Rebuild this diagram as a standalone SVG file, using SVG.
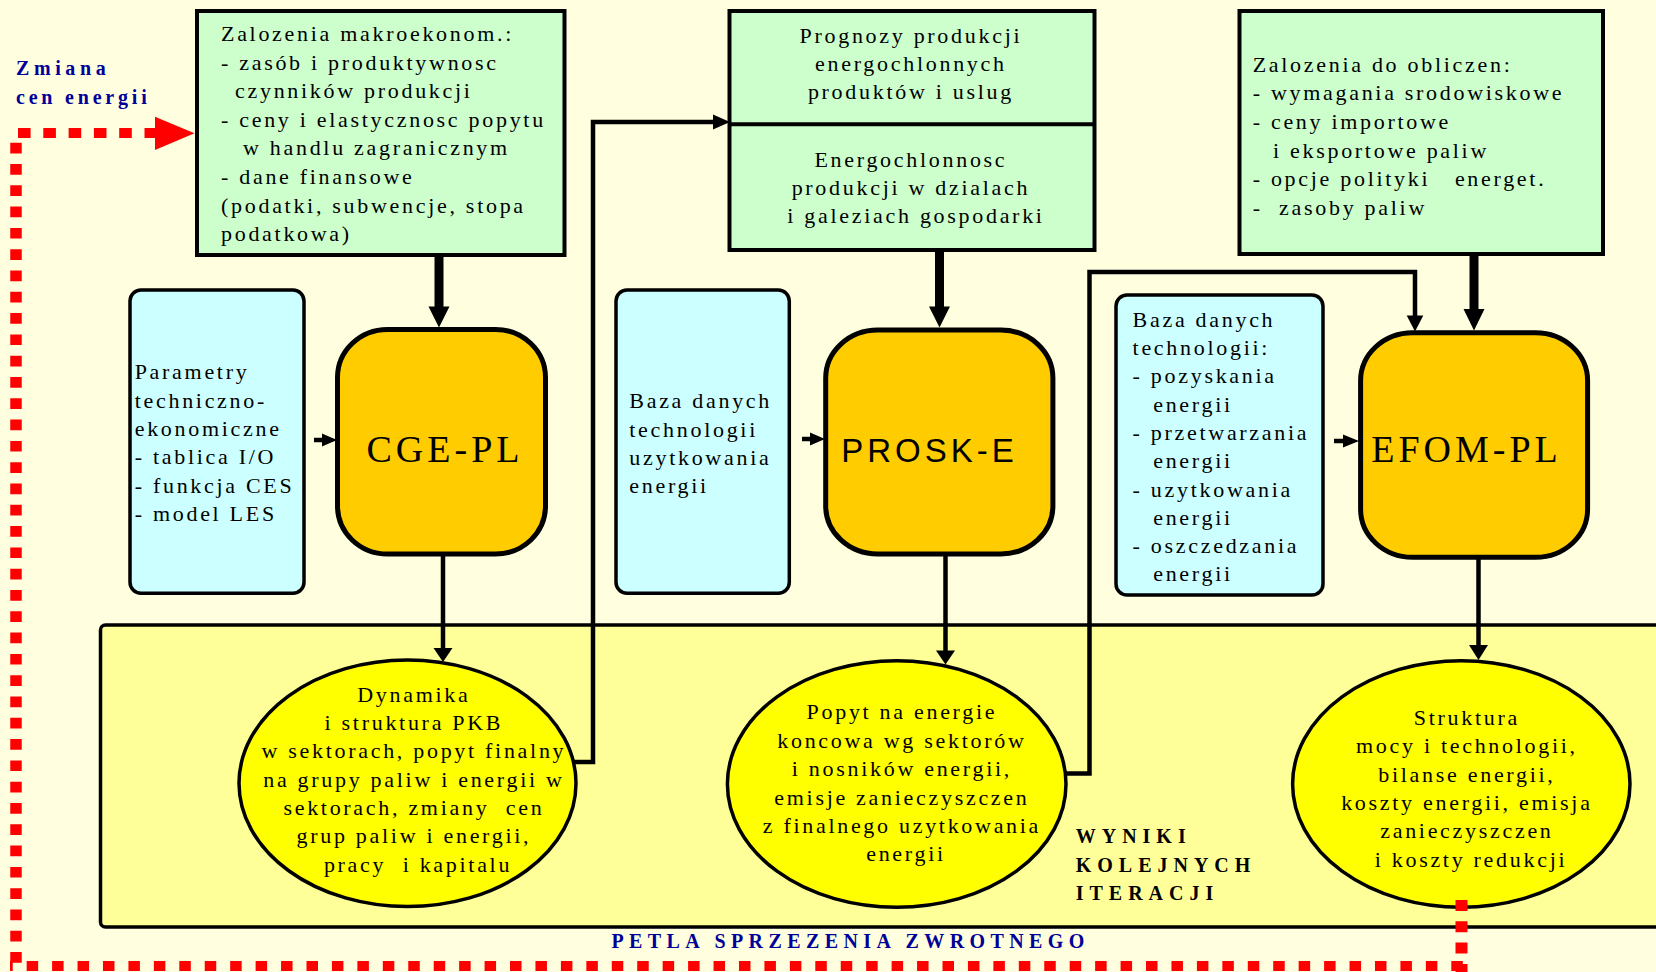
<svg xmlns="http://www.w3.org/2000/svg" width="1656" height="972" viewBox="0 0 1656 972">
<style>
.t{font-family:"Liberation Serif","Times New Roman",serif;font-size:22px;letter-spacing:2.7px;fill:#000}
.c{text-anchor:middle}
.big{font-family:"Liberation Serif","Times New Roman",serif;font-size:38px;letter-spacing:4px;text-anchor:middle;fill:#000}
.sans{font-family:"Liberation Sans",Arial,sans-serif;font-size:33px;letter-spacing:4px;text-anchor:middle;fill:#000}
.green{fill:#CCFFCC;stroke:#000;stroke-width:4}
.blue{fill:#CCFFFF;stroke:#000;stroke-width:3.5}
.orange{fill:#FFCC00;stroke:#000;stroke-width:5}
.ell{fill:#FFFF00;stroke:#000;stroke-width:3.5}
.wire{fill:none;stroke:#000;stroke-width:4.5}
.thick{fill:none;stroke:#000;stroke-width:9}
.head{fill:#000}
.red{fill:none;stroke:#FF0000}
.lbl{font-family:"Liberation Serif","Times New Roman",serif;font-weight:bold;font-size:20px;fill:#000099}
.res{font-family:"Liberation Serif","Times New Roman",serif;font-weight:bold;font-size:20px;letter-spacing:6px;fill:#000}
</style>
<rect x="0" y="0" width="1656" height="972" fill="#FFFFE0"/>

<g id="panel">
  <rect x="100.5" y="625" width="1600" height="302" rx="5" fill="#FFFF99" stroke="#000" stroke-width="3.5"/>
</g>

<g id="box-makro">
  <rect class="green" x="197" y="11" width="367.5" height="244"/>
  <text class="t" xml:space="preserve">
    <tspan x="221" y="41">Zalozenia makroekonom.:</tspan>
    <tspan x="221" y="69.6">- zasób i produktywnosc</tspan>
    <tspan x="235" y="98.2">czynników produkcji</tspan>
    <tspan x="221" y="126.8">- ceny i elastycznosc popytu</tspan>
    <tspan x="243" y="155.4">w handlu zagranicznym</tspan>
    <tspan x="221" y="184">- dane finansowe</tspan>
    <tspan x="221" y="212.6">(podatki, subwencje, stopa</tspan>
    <tspan x="221" y="241.2">podatkowa)</tspan>
  </text>
</g>

<g id="box-prognozy">
  <rect class="green" x="729.5" y="11" width="365" height="239"/>
  <line x1="729.5" y1="124.3" x2="1094.5" y2="124.3" stroke="#000" stroke-width="4"/>
  <text class="t c">
    <tspan x="915" y="42.7">Prognozy produkcji</tspan>
    <tspan x="915" y="71">energochlonnych</tspan>
    <tspan x="915" y="99.3">produktów i uslug</tspan>
    <tspan x="915" y="166.7">Energochlonnosc</tspan>
    <tspan x="915" y="195">produkcji w dzialach</tspan>
    <tspan x="916" y="223.3">i galeziach gospodarki</tspan>
  </text>
</g>

<g id="box-obliczenia">
  <rect class="green" x="1239.5" y="11" width="363.5" height="243"/>
  <text class="t" xml:space="preserve">
    <tspan x="1252.7" y="71.7">Zalozenia do obliczen:</tspan>
    <tspan x="1252.7" y="100.3">- wymagania srodowiskowe</tspan>
    <tspan x="1252.7" y="128.9">- ceny importowe</tspan>
    <tspan x="1273" y="157.5">i eksportowe paliw</tspan>
    <tspan x="1252.7" y="186.1">- opcje polityki   energet.</tspan>
    <tspan x="1252.7" y="214.7">-  zasoby paliw</tspan>
  </text>
</g>

<g id="blue-parametry">
  <rect class="blue" x="130" y="290" width="174" height="303.3" rx="11"/>
  <text class="t">
    <tspan x="134.7" y="379.3">Parametry</tspan>
    <tspan x="134.7" y="407.6">techniczno-</tspan>
    <tspan x="134.7" y="435.9">ekonomiczne</tspan>
    <tspan x="134.7" y="464.2">- tablica I/O</tspan>
    <tspan x="134.7" y="492.5">- funkcja CES</tspan>
    <tspan x="134.7" y="520.8">- model LES</tspan>
  </text>
</g>

<g id="blue-baza1">
  <rect class="blue" x="616" y="290" width="173.3" height="303.3" rx="11"/>
  <text class="t">
    <tspan x="629.3" y="408.3">Baza danych</tspan>
    <tspan x="629.3" y="436.5">technologii</tspan>
    <tspan x="629.3" y="464.7">uzytkowania</tspan>
    <tspan x="629.3" y="492.9">energii</tspan>
  </text>
</g>

<g id="blue-baza2">
  <rect class="blue" x="1116" y="295" width="207" height="300" rx="11"/>
  <text class="t">
    <tspan x="1132.6" y="326.7">Baza danych</tspan>
    <tspan x="1132.6" y="355">technologii:</tspan>
    <tspan x="1132.6" y="383.3">- pozyskania</tspan>
    <tspan x="1153.2" y="411.6">energii</tspan>
    <tspan x="1132.6" y="439.9">- przetwarzania</tspan>
    <tspan x="1153.2" y="468.2">energii</tspan>
    <tspan x="1132.6" y="496.5">- uzytkowania</tspan>
    <tspan x="1153.2" y="524.8">energii</tspan>
    <tspan x="1132.6" y="553.1">- oszczedzania</tspan>
    <tspan x="1153.2" y="581.4">energii</tspan>
  </text>
</g>

<g id="model-cge">
  <rect class="orange" x="337.5" y="329.5" width="208" height="224.5" rx="50" ry="48"/>
  <text class="big" x="445" y="461.7">CGE-PL</text>
</g>

<g id="model-prosk">
  <rect class="orange" x="825.7" y="330" width="227.2" height="224" rx="52" ry="48"/>
  <text class="sans" x="929.5" y="461.7">PROSK-E</text>
</g>

<g id="model-efom">
  <rect class="orange" x="1360.6" y="332.7" width="227" height="224.6" rx="52" ry="48"/>
  <text class="big" x="1466.5" y="461.7">EFOM-PL</text>
</g>

<g id="connectors">
  <line class="thick" x1="439" y1="255" x2="439" y2="308"/>
  <polygon class="head" points="428.5,306.5 449.5,306.5 439,327.5"/>
  <line class="thick" x1="939.5" y1="250" x2="939.5" y2="308"/>
  <polygon class="head" points="929,306.5 950,306.5 939.5,327.5"/>
  <line class="thick" x1="1474" y1="254" x2="1474" y2="310"/>
  <polygon class="head" points="1463.5,309 1484.5,309 1474,330.5"/>
  <line class="wire" x1="314" y1="440" x2="325" y2="440"/>
  <polygon class="head" points="322,433.5 337,440 322,446.5"/>
  <line class="wire" x1="802" y1="439" x2="813" y2="439"/>
  <polygon class="head" points="810,432.5 825,439 810,445.5"/>
  <line class="wire" x1="1334" y1="441" x2="1345" y2="441"/>
  <polygon class="head" points="1343,434.5 1359,441 1343,447.5"/>
  <line class="wire" x1="443" y1="554" x2="443" y2="650"/>
  <polygon class="head" points="433.5,648 452.5,648 443,662"/>
  <line class="wire" x1="945.5" y1="554" x2="945.5" y2="652"/>
  <polygon class="head" points="936,650.5 955,650.5 945.5,664.5"/>
  <line class="wire" x1="1478.5" y1="557" x2="1478.5" y2="647"/>
  <polygon class="head" points="1469,645 1488,645 1478.5,660"/>
  <polyline class="wire" points="574,762 593,762 593,122 715,122"/>
  <polygon class="head" points="713,114.5 730,122 713,129.5"/>
  <polyline class="wire" points="1064,773.5 1089.5,773.5 1089.5,272 1415,272 1415,317"/>
  <polygon class="head" points="1406.7,315.5 1423.3,315.5 1415,331.5"/>
</g>

<g id="result-gdp">
  <ellipse class="ell" cx="407.5" cy="783.3" rx="168.5" ry="123.3"/>
  <text class="t c">
    <tspan x="418" y="701.7">Dynamika</tspan>
    <tspan x="418" y="730">i struktura PKB</tspan>
    <tspan x="418" y="758.3">w sektorach, popyt finalny</tspan>
    <tspan x="418" y="786.6">na grupy paliw i energii w</tspan>
    <tspan x="418" y="814.9" xml:space="preserve">sektorach, zmiany  cen</tspan>
    <tspan x="418" y="843.2">grup paliw i energii,</tspan>
    <tspan x="418" y="871.5" xml:space="preserve">pracy  i kapitalu</tspan>
  </text>
</g>

<g id="result-demand">
  <ellipse class="ell" cx="896.7" cy="784" rx="169.3" ry="123.3"/>
  <text class="t c">
    <tspan x="906" y="719.3">Popyt na energie</tspan>
    <tspan x="906" y="747.7">koncowa wg sektorów</tspan>
    <tspan x="906" y="776.1">i nosników energii,</tspan>
    <tspan x="906" y="804.5">emisje zanieczyszczen</tspan>
    <tspan x="906" y="832.9">z finalnego uzytkowania</tspan>
    <tspan x="906" y="861.3">energii</tspan>
  </text>
</g>

<g id="result-structure">
  <ellipse class="ell" cx="1461.3" cy="784" rx="168.7" ry="123.3"/>
  <text class="t c">
    <tspan x="1471" y="725">Struktura</tspan>
    <tspan x="1471" y="753.3">mocy i technologii,</tspan>
    <tspan x="1471" y="781.6">bilanse energii,</tspan>
    <tspan x="1471" y="809.9">koszty energii, emisja</tspan>
    <tspan x="1471" y="838.2">zanieczyszczen</tspan>
    <tspan x="1471" y="866.5">i koszty redukcji</tspan>
  </text>
</g>

<g id="label-wyniki">
  <text class="res">
    <tspan x="1075.7" y="843.3">WYNIKI</tspan>
    <tspan x="1075.7" y="871.7">KOLEJNYCH</tspan>
    <tspan x="1075.7" y="900">ITERACJI</tspan>
  </text>
</g>

<g id="feedback-loop">
  <line class="red" x1="1461.5" y1="900" x2="1461.5" y2="972" stroke-width="12" stroke-dasharray="11 10.3"/>
  <line class="red" x1="1462.8" y1="966" x2="10" y2="966" stroke-width="10" stroke-dasharray="11.5 13.94"/>
  <line class="red" x1="16" y1="142.7" x2="16" y2="965" stroke-width="11.5" stroke-dasharray="10.7 10.6"/>
  <line class="red" x1="18" y1="133" x2="157" y2="133" stroke-width="10" stroke-dasharray="12.6 12.7"/>
  <polygon fill="#FF0000" points="155,116.7 194.5,133.3 155,150"/>
  <text class="lbl" x="611.5" y="948.3" style="letter-spacing:5.4px">PETLA SPRZEZENIA ZWROTNEGO</text>
</g>

<g id="label-zmiana">
  <text class="lbl">
    <tspan x="16" y="75" style="letter-spacing:4.6px">Zmiana</tspan>
    <tspan x="16" y="104" style="letter-spacing:3.8px">cen energii</tspan>
  </text>
</g>
</svg>
